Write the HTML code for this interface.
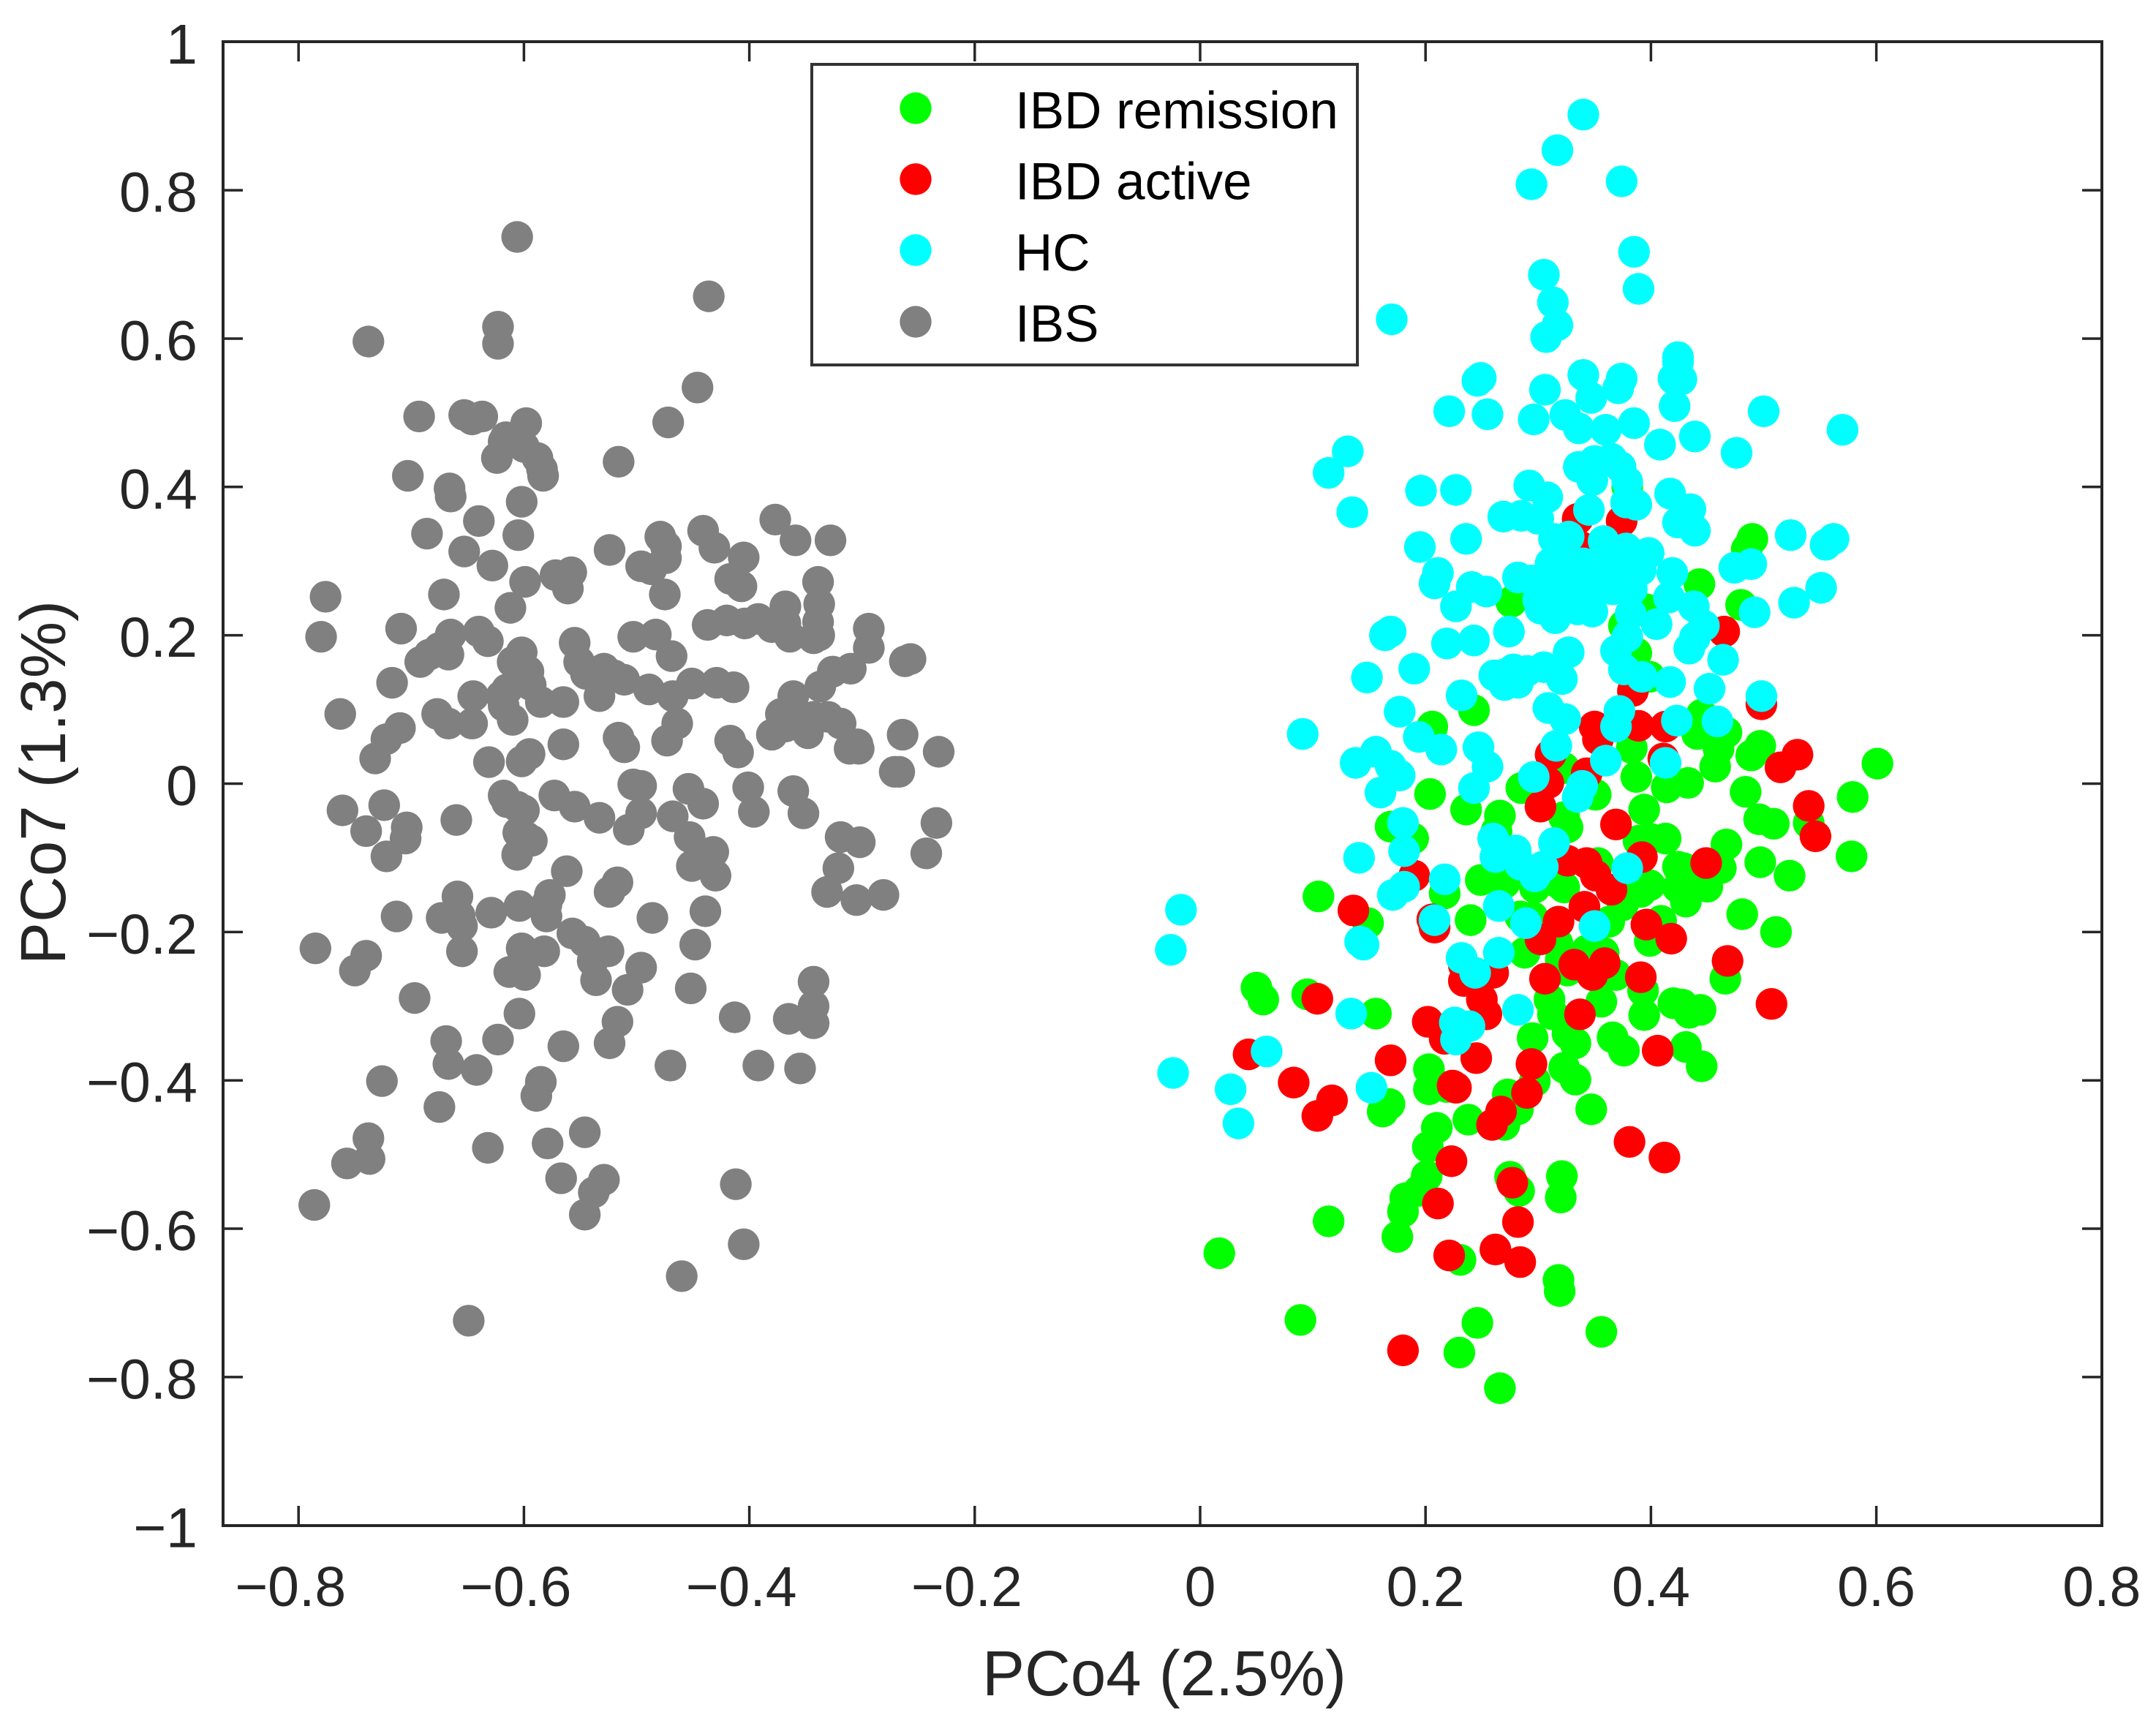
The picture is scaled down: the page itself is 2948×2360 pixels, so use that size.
<!DOCTYPE html>
<html><head><meta charset="utf-8"><title>PCoA scatter</title>
<style>html,body{margin:0;padding:0;background:#fff}svg{display:block}text{font-family:"Liberation Sans",Arial,sans-serif}</style>
</head><body>
<svg id="chart" xmlns="http://www.w3.org/2000/svg" width="2948" height="2360" viewBox="0 0 2948 2360">
<rect x="0" y="0" width="2948" height="2360" fill="#fff"/>
<g id="marks"></g>
<g id="axes"></g>
<rect x="305" y="57" width="2569" height="2029" fill="none" stroke="#262626" stroke-width="4"/>
<text x="1592" y="2318" font-size="87" fill="#262626" text-anchor="middle">PCo4 (2.5%)</text>
<text transform="translate(89 1070) rotate(-90)" font-size="87" fill="#262626" text-anchor="middle">PCo7 (1.3%)</text>
<g>
<rect x="1110" y="88" width="746" height="411" fill="#fff" stroke="#333" stroke-width="4"/>
<circle cx="1252" cy="148" r="21.7" fill="#00ff00"/>
<text x="1388" y="175.5" font-size="71" fill="#000">IBD remission</text>
<circle cx="1252" cy="245" r="21.7" fill="#ff0000"/>
<text x="1388" y="272.5" font-size="71" fill="#000">IBD active</text>
<circle cx="1252" cy="342" r="21.7" fill="#00ffff"/>
<text x="1388" y="370" font-size="71" fill="#000">HC</text>
<circle cx="1252" cy="440" r="21.7" fill="#808080"/>
<text x="1388" y="467" font-size="71" fill="#000">IBS</text>
</g>
</svg>
<script>
const xTicks=[-0.8,-0.6,-0.4,-0.2,0,0.2,0.4,0.6,0.8];
const xTickLabels=["\u22120.8","\u22120.6","\u22120.4","\u22120.2","0","0.2","0.4","0.6","0.8"];
const yTicks=[-1,-0.8,-0.6,-0.4,-0.2,0,0.2,0.4,0.6,0.8,1];
const yTickLabels=["\u22121","\u22120.8","\u22120.6","\u22120.4","\u22120.2","0","0.2","0.4","0.6","0.8","1"];

const ibsX=[-.606,-.436,-.738,-.623,-.623,-.446,-.472,-.693,-.653,-.637,-.646,-.598,-.616,-.618,-.600,-.624,-.588,-.584,-.583,-.516,
-.703,-.666,-.665,-.640,-.602,-.686,-.605,-.653,-.628,-.599,-.558,-.572,-.561,-.524,-.479,-.474,-.474,-.441,-.431,-.377,
-.359,-.328,-.496,-.487,-.405,-.417,-.407,-.339,-.776,-.780,-.709,-.671,-.612,-.640,-.632,-.475,-.338,-.368,-.368,-.339,
-.294,-.338,-.404,-.437,-.420,-.392,-.380,-.364,-.343,-.257,-.262,-.294,-.555,-.503,-.483,-.469,-.602,-.610,-.596,-.675,
-.667,-.684,-.692,-.665,-.717,-.645,-.615,-.594,-.585,-.565,-.551,-.545,-.529,-.520,-.533,-.511,-.489,-.468,-.451,-.429,
-.414,-.310,-.326,-.337,-.361,-.343,-.330,-.380,-.319,-.304,-.264,-.364,-.368,-.372,-.763,-.710,-.722,-.732,-.677,-.667,
-.646,-.620,-.618,-.610,-.631,-.595,-.602,-.565,-.516,-.511,-.464,-.473,-.417,-.410,-.348,-.311,-.303,-.271,-.267,-.232,
-.761,-.724,-.740,-.704,-.705,-.722,-.660,-.618,-.615,-.606,-.600,-.573,-.555,-.533,-.503,-.496,-.496,-.507,-.468,-.454,
-.441,-.432,-.453,-.401,-.396,-.361,-.352,-.430,-.441,-.451,-.319,-.302,-.234,-.243,-.321,-.331,-.305,-.281,-.605,-.598,
-.593,-.606,-.562,-.517,-.524,-.577,-.580,-.580,-.604,-.659,-.713,-.673,-.657,-.655,-.629,-.486,-.439,-.557,-.546,-.539,
-.582,-.602,-.613,-.599,-.655,-.496,-.448,-.525,-.536,-.508,-.452,-.785,-.740,-.750,-.697,-.343,-.343,-.343,-.365,-.413,
-.517,-.524,-.604,-.623,-.669,-.667,-.642,-.565,-.585,-.589,-.470,-.392,-.355,-.726,-.675,-.738,-.737,-.757,-.632,-.579,
-.546,-.567,-.529,-.538,-.546,-.786,-.412,-.405,-.460,-.649];
const ibsY=[.737,.657,.596,.616,.593,.534,.487,.495,.497,.495,.491,.486,.467,.461,.454,.439,.439,.424,.415,.434,
.415,.398,.387,.354,.380,.337,.335,.313,.294,.272,.285,.281,.263,.315,.333,.320,.304,.341,.318,.356,
.328,.328,.293,.289,.305,.276,.266,.272,.252,.198,.209,.255,.237,.205,.192,.255,.242,.239,.216,.218,
.209,.200,.216,.214,.220,.222,.211,.198,.196,.168,.165,.183,.190,.198,.201,.172,.177,.164,.151,.183,
.174,.174,.164,.201,.136,.118,.127,.133,.110,.110,.164,.148,.155,.146,.118,.140,.127,.118,.135,.136,
.130,.155,.151,.131,.118,.090,.090,.066,.081,.053,.066,.097,.077,.094,.094,.075,.060,.034,.094,.081,
.081,.118,.105,.086,.029,.040,.030,.053,.062,.049,.081,.058,.058,.042,.068,.047,.047,.016,.016,.043,
-.036,-.029,-.064,-.059,-.074,-.098,-.049,-.016,-.025,-.031,-.036,-.016,-.031,-.046,-.001,-.003,-.040,-.062,-.044,-.007,
-.027,-.092,-.072,-.005,-.038,-.010,-.040,-.124,-.107,-.111,-.072,-.079,-.053,-.094,-.114,-.146,-.157,-.150,-.066,-.072,
-.077,-.096,-.118,-.133,-.146,-.150,-.163,-.179,-.165,-.152,-.179,-.181,-.178,-.192,-.174,-.181,-.172,-.202,-.213,-.239,
-.226,-.222,-.254,-.258,-.226,-.248,-.217,-.226,-.265,-.278,-.276,-.222,-.232,-.252,-.289,-.267,-.300,-.323,-.317,-.315,
-.321,-.350,-.310,-.345,-.347,-.378,-.386,-.354,-.402,-.421,-.380,-.380,-.384,-.401,-.436,-.478,-.506,-.512,-.491,-.485,
-.470,-.532,-.534,-.551,-.581,-.568,-.540,-.621,-.664,-.724];

const remissionX=[.017,.114,.089,.175,.180,.182,.194,.201,.202,.210,.238,.162,.168,.203,.219,.270,.282,.347,.275,.283,.321,.320,.231,.318,.319,.246,.230,.356,.266,
.490,.485,.443,.480,.445,.441,.467,.460,.457,.433,.497,.489,.484,.496,.509,.540,.579,.601,.578,.467,.497,.523,.429,.462,.450,.431,.481,.511,.466,.444,.434,.428,
.204,.236,.266,.263,.169,.189,.285,.387,.414,.394,.351,.323,.399,.413,.389,.424,.424,.399,.391,.375,.249,.270,.297,.323,.353,.217,.240,.284,.105,.149,.409,.399,
.288,.320,.358,.326,.369,.393,.420,.310,.313,.356,.326,.394,.295,.333,.366,.376,.431,.445,.323,.333,.203,.297,.273,.050,.056,.095,.156,
.396,.376,.387,.399,.276,.379,.243,.206,.383,.323,.343,.317,.363,.326,.317,.354,.295,.372];
const remissionY=[-.633,-.590,-.723,-.611,-.577,-.559,-.549,-.529,-.490,-.464,-.453,-.442,-.432,-.412,-.409,-.460,-.439,-.439,-.530,-.549,-.529,-.558,-.642,-.669,-.684,-.727,-.767,-.739,-.815,
.330,.316,.269,.241,.093,.067,.069,.047,.023,.001,.051,.038,-.011,-.048,-.054,-.053,-.018,.027,-.098,-.082,-.106,-.124,-.114,-.114,-.139,-.159,-.176,-.200,-.263,-.305,-.309,-.298,
-.014,-.035,-.043,-.064,-.058,-.074,-.006,.009,-.005,-.035,-.015,-.045,-.074,-.074,-.077,-.112,-.140,-.137,-.146,-.164,-.130,-.134,-.140,-.140,-.107,-.148,-.184,-.179,-.152,-.188,-.185,-.212,
-.228,-.237,-.228,-.252,-.258,-.279,-.296,-.291,-.311,-.294,-.337,-.312,-.343,-.350,-.342,-.360,-.355,-.381,-.383,-.399,-.385,-.401,-.419,-.275,-.291,-.284,-.310,
.235,.213,.176,.144,.245,.400,.099,.077,.048,.021,-.225,-.215,-.186,-.059,-.133,-.245,-.180,-.151];

const activeX=[.104,.117,.223,.211,.277,.282,.262,.284,.221,.180,.381,.412,.259,.267,.227,.290,
.369,.302,.309,.343,.392,.326,.343,.351,.365,.341,.318,.302,.396,.418,.449,.540,.546,.190,.136,.206,.208,.234,.260,.234,.250,.254,.202,.217,.245,.169,.083,.043,.104,.306,.332,.359,.348,.391,.337,.468,.507,.406,.294,.224,
.335,.374,.338,.465,.384,.498,.350,.353,.389,.413,.411,.311,.530,.515];
const activeY=[-.448,-.427,-.509,-.566,-.538,-.591,-.628,-.645,-.636,-.764,-.483,-.504,-.460,-.442,-.410,-.417,
-.055,-.031,.001,.014,-.099,-.104,-.107,-.124,-.143,-.166,-.186,-.210,-.190,-.209,-.107,-.030,-.071,-.124,-.171,-.183,-.194,-.245,-.255,-.266,-.291,-.311,-.321,-.344,-.370,-.373,-.403,-.365,-.290,-.263,-.244,-.242,-.258,-.261,-.311,-.239,-.297,-.360,-.378,-.407,
.357,.354,.319,.205,.125,.107,.077,.060,.078,.077,.034,.039,.039,.022];

const hcX=[.131,.114,.135,.196,.227,.195,.236,.292,.308,.336,.350,.365,.373,.379,.348,.408,.476,.417,.435,.424,.439,.345,.378,.387,.269,.285,.300,.314,.327,.358,.378,.398,.323,.419,.391,.372,.351,.336,.320,.353,.351,.282,.295,.211,.208,.241,.254,.227,.300,.302,.315,.335,.348,.274,.382,.405,.416,.438,.447,.439,.434,.379,.369,.376,.392,.417,.452,.464,.474,.489,.524,.492,.527,.551,.555,.164,.169,.219,.243,.148,.190,.327,.305,.290,.278,.269,.261,.270,.282,.321,.232,.177,.091,.194,.214,.247,.255,.156,.138,.169,.177,.160,.243,.309,.324,.316,.372,.369,.423,.459,.498,.360,.413,.296,.339,.335,
.180,.181,.141,.260,.262,.280,.284,.314,.304,.297,.379,.217,.181,.171,.208,.265,.289,.350,.142,.232,.244,.265,.282,.226,.239,.227,.134,.059,.152,.027,.034,-.017,-.026,-.024,.145,
.340,.317,.294,.374,.385,.389,.305,.313,.317,.307,.170,.424,.424,.420,.427,.421,.500,.570,.249,.246,.306,.340,.374,.371,.347,.221,.255,.296,.324,.336,.360,.385,.439,.408,.562,
.340,.330,.366,.337,.314,.308,.340,.360,.383,.311];
const hcY=[.448,.419,.366,.395,.396,.319,.330,.402,.386,.427,.435,.438,.427,.407,.409,.457,.446,.391,.370,.352,.341,.369,.379,.376,.360,.361,.357,.330,.333,.327,.317,.311,.310,.284,.288,.279,.287,.297,.274,.267,.258,.278,.274,.284,.270,.265,.259,.239,.248,.236,.223,.235,.232,.205,.229,.215,.251,.239,.213,.197,.182,.198,.179,.154,.144,.137,.128,.167,.291,.296,.335,.231,.244,.264,.322,.200,.205,.189,.193,.143,.155,.177,.157,.152,.154,.147,.146,.133,.136,.141,.119,.097,.067,.063,.046,.049,.023,.043,.028,.024,.011,-.012,-.006,.102,.087,.051,.098,.077,.085,.084,.118,.031,.028,.009,-.003,-.018,
-.053,-.091,-.100,-.074,-.099,-.090,-.109,-.080,-.112,-.125,-.114,-.129,-.139,-.150,-.184,-.165,-.188,-.192,-.213,-.235,-.255,-.228,-.305,-.322,-.327,-.345,-.310,-.361,-.410,-.412,-.458,-.170,-.224,-.390,-.217,
.902,.854,.808,.812,.717,.667,.686,.649,.618,.602,.626,.575,.568,.546,.545,.509,.502,.477,.547,.543,.531,.551,.546,.533,.520,.502,.498,.491,.497,.479,.477,.486,.468,.457,.330,
.297,.253,.262,.272,.267,.243,.238,.297,.262,.297];

const plotLeft=305,plotRight=2874,plotTop=57,plotBottom=2086,tickLen=27;
function xScale(v){return 1641+v*1541;}
function yScale(v){return 1071.5-v*1014.25;}
const SVGNS="http://www.w3.org/2000/svg";
const marks=document.getElementById('marks');
const axes=document.getElementById('axes');
function drawSeries(xs,ys,color,name){
  for(let i=0;i<xs.length;i++){
    const c=document.createElementNS(SVGNS,'circle');
    c.setAttribute('cx',xScale(xs[i]));
    c.setAttribute('cy',yScale(ys[i]));
    c.setAttribute('r',21.7);
    c.setAttribute('fill',color);
    
    
    marks.appendChild(c);
  }
}
drawSeries(ibsX,ibsY,'#808080','point-ibs');
drawSeries(remissionX,remissionY,'#00ff00','point-ibd-remission');
drawSeries(activeX,activeY,'#ff0000','point-ibd-active');
drawSeries(hcX,hcY,'#00ffff','point-hc');
function tickLine(x1,y1,x2,y2,name){
  const l=document.createElementNS(SVGNS,'line');
  l.setAttribute('x1',x1);l.setAttribute('y1',y1);l.setAttribute('x2',x2);l.setAttribute('y2',y2);
  l.setAttribute('stroke','#262626');l.setAttribute('stroke-width',3.5);
  
  
  axes.appendChild(l);
}
function tickText(x,y,str,anchor,name){
  const t=document.createElementNS(SVGNS,'text');
  t.setAttribute('x',x);t.setAttribute('y',y);t.setAttribute('font-size',77);
  t.setAttribute('fill','#262626');t.setAttribute('text-anchor',anchor);
  t.textContent=str;
  
  
  axes.appendChild(t);
}
xTicks.forEach(function(v,i){
  const x=xScale(v);
  tickLine(x,plotBottom,x,plotBottom-tickLen,'x-tick-mark');
  tickLine(x,plotTop,x,plotTop+tickLen,'x-tick-mark-top');
  tickText(v<0?x-11:x,2196,xTickLabels[i],'middle','x-tick-label');
});
yTicks.forEach(function(v,i){
  const y=yScale(v);
  tickLine(plotLeft,y,plotLeft+tickLen,y,'y-tick-mark');
  tickLine(plotRight,y,plotRight-tickLen,y,'y-tick-mark-right');
  tickText(270,y+29.5,yTickLabels[i],'end','y-tick-label');
});
</script>
</body></html>
